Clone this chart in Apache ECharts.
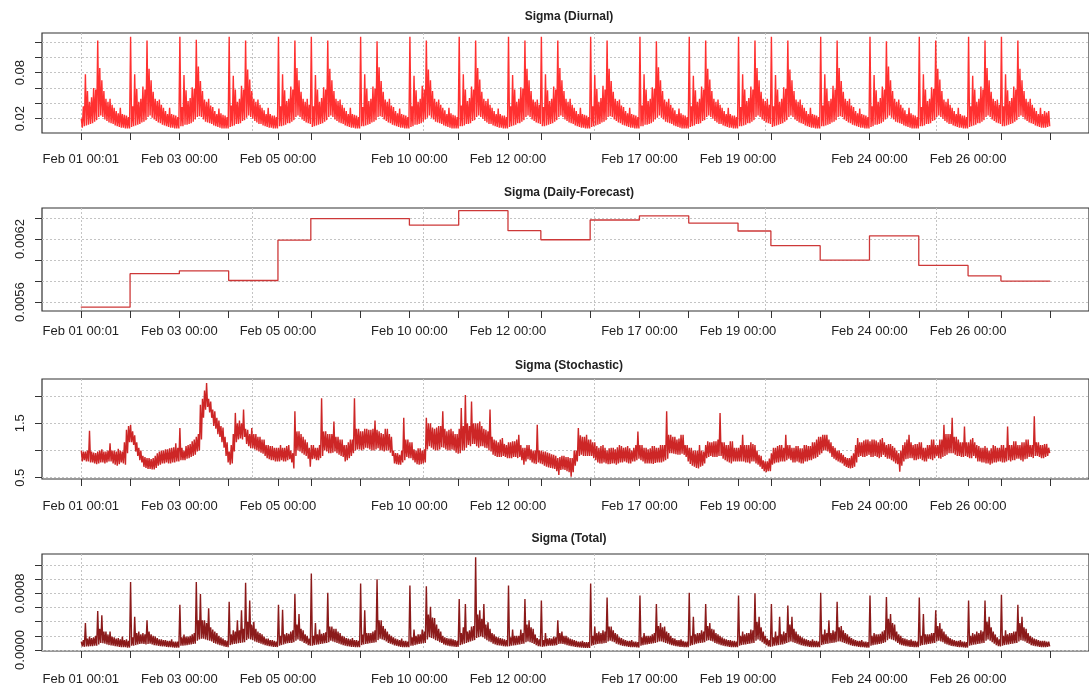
<!DOCTYPE html>
<html>
<head>
<meta charset="utf-8">
<script src="https://cdn.jsdelivr.net/npm/echarts@6/dist/echarts.min.js"></script>
<style>html,body{margin:0;padding:0;background:#fff}#chart{width:1089px;height:686px}</style>
</head>
<body>
<div id="chart"></div>
<script>
// ---------- time structure (trading days) ----------
const dayNames = ["Feb 01","Feb 02","Feb 03","Feb 04","Feb 05","Feb 08","Feb 09","Feb 10","Feb 11","Feb 12",
                  "Feb 15","Feb 16","Feb 17","Feb 18","Feb 19","Feb 22","Feb 23","Feb 24","Feb 25","Feb 26","Mar 01"];
const dayHours = [24,24,24,24,16,24,24,24,24,16,24,24,24,24,16,24,24,24,24,16,24];
const xLabelText = ["Feb 01 00:01","Feb 03 00:00","Feb 05 00:00","Feb 10 00:00","Feb 12 00:00",
                    "Feb 17 00:00","Feb 19 00:00","Feb 24 00:00","Feb 26 00:00"];
const xLabelDay = [0,2,4,7,9,12,14,17,19];
const xGridEvery = 5000; // observations (minutes) between vertical grid lines

// ---------- Sigma (Daily-Forecast): one value per trading day ----------
const dailyForecast = [0.005551,0.00587,0.005897,0.005805,0.00619,0.006394,0.006394,0.006332,0.00647,0.006279,
                       0.006193,0.006381,0.006421,0.006352,0.006276,0.006137,0.0060,0.00623,0.005949,0.00585,0.0058];

// ---------- Sigma (Diurnal): hourly high / low of the 1-minute line (one row per day) ----------
const diurnalHi = [
 .020,.036,.078,.056,.042,.048,.060,.058,.122,.086,.070,.056,.046,.042,.046,.038,.034,.030,.027,.034,.026,.025,.024,.022,
 .127,.036,.078,.059,.042,.046,.062,.058,.122,.085,.070,.055,.046,.043,.045,.038,.034,.030,.026,.034,.026,.025,.024,.022,
 .127,.035,.077,.057,.043,.047,.061,.059,.123,.088,.069,.056,.045,.042,.046,.037,.035,.030,.026,.033,.027,.025,.024,.022,
 .127,.037,.076,.058,.042,.046,.063,.058,.122,.084,.071,.056,.046,.042,.045,.038,.034,.031,.026,.034,.026,.024,.024,.022,
 .127,.036,.078,.057,.043,.046,.062,.058,.122,.086,.070,.055,.046,.042,.046,.038,
 .127,.036,.077,.058,.042,.047,.061,.058,.122,.085,.070,.056,.046,.043,.045,.038,.034,.030,.026,.034,.026,.025,.024,.022,
 .127,.035,.078,.059,.043,.046,.062,.059,.121,.087,.069,.055,.045,.042,.046,.037,.035,.030,.027,.033,.026,.025,.024,.022,
 .127,.036,.076,.057,.042,.046,.063,.058,.122,.084,.070,.056,.046,.042,.045,.038,.034,.031,.026,.034,.027,.025,.024,.022,
 .127,.037,.078,.058,.043,.047,.062,.058,.122,.086,.071,.055,.046,.043,.046,.038,.034,.030,.026,.033,.026,.024,.024,.022,
 .127,.036,.077,.058,.042,.046,.061,.059,.122,.085,.070,.056,.045,.042,.045,.038,
 .127,.035,.078,.057,.043,.046,.062,.058,.122,.086,.070,.056,.046,.042,.046,.038,.034,.030,.026,.034,.026,.025,.024,.022,
 .127,.036,.077,.059,.042,.047,.063,.058,.122,.085,.069,.055,.046,.043,.045,.037,.035,.030,.027,.034,.026,.025,.024,.022,
 .127,.037,.078,.058,.043,.046,.061,.059,.121,.087,.070,.056,.045,.042,.046,.038,.034,.031,.026,.033,.027,.025,.024,.022,
 .127,.036,.076,.057,.042,.046,.062,.058,.122,.085,.071,.056,.046,.042,.045,.038,.034,.030,.026,.034,.026,.024,.024,.022,
 .127,.035,.078,.058,.043,.047,.062,.058,.122,.086,.070,.055,.046,.043,.046,.038,
 .127,.036,.077,.058,.042,.046,.061,.059,.122,.084,.070,.056,.045,.042,.045,.038,.034,.030,.026,.034,.026,.025,.024,.022,
 .127,.037,.078,.059,.043,.046,.063,.058,.122,.086,.069,.055,.046,.043,.046,.037,.035,.030,.027,.033,.026,.025,.024,.022,
 .127,.036,.077,.057,.042,.047,.062,.058,.121,.088,.070,.056,.046,.042,.045,.038,.034,.031,.026,.034,.027,.025,.024,.022,
 .127,.035,.078,.058,.043,.046,.061,.059,.122,.085,.071,.056,.045,.042,.046,.038,.034,.030,.026,.034,.026,.024,.024,.022,
 .127,.036,.076,.058,.042,.046,.062,.058,.122,.086,.070,.055,.046,.043,.045,.038,
 .127,.036,.078,.057,.043,.047,.062,.058,.122,.085,.070,.056,.046,.042,.046,.038,.034,.030,.026,.034,.026,.030,.028,.030];
const diurnalLo = [
 .008,.010,.011,.012,.013,.014,.016,.018,.022,.024,.022,.019,.017,.015,.014,.013,.011,.010,.009,.008,.008,.007,.007,.007,
 .009,.010,.011,.012,.013,.015,.016,.018,.022,.024,.021,.019,.017,.015,.014,.012,.011,.010,.009,.008,.008,.007,.007,.007,
 .010,.010,.012,.012,.013,.014,.016,.019,.022,.023,.022,.019,.016,.015,.014,.013,.011,.010,.009,.008,.007,.007,.007,.007,
 .009,.010,.011,.013,.013,.014,.017,.018,.021,.024,.022,.020,.017,.015,.013,.013,.011,.010,.009,.008,.008,.007,.007,.007,
 .010,.010,.011,.012,.014,.014,.016,.018,.022,.024,.022,.019,.017,.015,.014,.013,
 .009,.010,.011,.012,.013,.014,.016,.018,.022,.024,.022,.019,.017,.015,.014,.013,.011,.010,.009,.008,.008,.007,.007,.007,
 .010,.010,.011,.012,.013,.015,.016,.018,.022,.023,.022,.019,.017,.015,.014,.012,.011,.010,.009,.008,.008,.007,.007,.007,
 .009,.010,.012,.012,.013,.014,.016,.019,.021,.024,.021,.019,.016,.015,.014,.013,.011,.010,.009,.008,.007,.007,.007,.007,
 .010,.010,.011,.013,.013,.014,.017,.018,.022,.024,.022,.020,.017,.015,.013,.013,.011,.010,.009,.008,.008,.007,.007,.007,
 .009,.010,.011,.012,.014,.014,.016,.018,.022,.024,.022,.019,.017,.015,.014,.013,
 .010,.010,.011,.012,.013,.014,.016,.018,.022,.024,.022,.019,.017,.015,.014,.013,.011,.010,.009,.008,.008,.007,.007,.007,
 .009,.010,.011,.012,.013,.015,.016,.018,.022,.023,.022,.019,.017,.015,.014,.012,.011,.010,.009,.008,.008,.007,.007,.007,
 .010,.010,.012,.012,.013,.014,.016,.019,.021,.024,.021,.019,.016,.015,.014,.013,.011,.010,.009,.008,.007,.007,.007,.007,
 .009,.010,.011,.013,.013,.014,.017,.018,.022,.024,.022,.020,.017,.015,.013,.013,.011,.010,.009,.008,.008,.007,.007,.007,
 .010,.010,.011,.012,.014,.014,.016,.018,.022,.024,.022,.019,.017,.015,.014,.013,
 .009,.010,.011,.012,.013,.014,.016,.018,.022,.024,.022,.019,.017,.015,.014,.013,.011,.010,.009,.008,.008,.007,.007,.007,
 .010,.010,.011,.012,.013,.015,.016,.018,.022,.023,.022,.019,.017,.015,.014,.012,.011,.010,.009,.008,.008,.007,.007,.007,
 .009,.010,.012,.012,.013,.014,.016,.019,.021,.024,.021,.019,.016,.015,.014,.013,.011,.010,.009,.008,.007,.007,.007,.007,
 .010,.010,.011,.013,.013,.014,.017,.018,.022,.024,.022,.020,.017,.015,.013,.013,.011,.010,.009,.008,.008,.007,.007,.007,
 .009,.010,.011,.012,.014,.014,.016,.018,.022,.024,.022,.019,.017,.015,.014,.013,
 .010,.010,.011,.012,.013,.014,.016,.018,.022,.024,.022,.019,.017,.015,.014,.013,.011,.010,.009,.008,.008,.008,.009,.010];

// ---------- Sigma (Stochastic): hourly high / low ----------
const stochHi = [
 1.0,.98,.98,1.0,1.36,.98,.96,.95,.98,1.0,1.02,.98,.98,1.0,1.13,1.0,1.0,.98,1.03,1.0,.98,1.15,1.38,1.45,
 1.47,1.35,1.28,1.15,1.05,1.0,.9,.88,.86,.86,.84,.86,.9,.95,.98,1.0,1.0,1.02,1.02,1.04,1.05,1.06,1.13,1.05,
 1.41,1.05,1.0,1.08,1.1,1.12,1.17,1.2,1.25,1.3,1.84,1.95,2.1,2.24,1.95,1.9,1.75,1.72,1.6,1.55,1.45,1.42,1.25,1.15,
 .98,1.1,1.3,1.69,1.5,1.55,1.5,1.75,1.4,1.38,1.3,1.41,1.3,1.3,1.25,1.25,1.2,1.2,1.1,1.1,1.08,1.08,1.05,1.05,
 1.05,1.1,1.05,1.05,1.08,1.1,1.0,.95,1.72,1.35,1.35,1.3,1.25,1.2,1.15,1.05,
 1.1,1.1,1.05,1.05,1.1,1.96,1.35,1.35,1.3,1.3,1.3,1.53,1.25,1.25,1.2,1.2,1.1,1.1,1.15,1.2,1.2,1.96,1.4,1.4,
 1.35,1.35,1.4,1.4,1.38,1.38,1.4,1.55,1.38,1.35,1.32,1.3,1.4,1.4,1.3,1.25,1.0,.95,.95,.92,1.0,1.6,1.2,1.2,
 1.15,1.15,1.02,1.0,1.04,1.04,1.0,1.02,1.6,1.5,1.5,1.42,1.4,1.42,1.45,1.45,1.72,1.4,1.35,1.38,1.4,1.35,1.3,1.3,
 1.4,1.78,1.45,2.02,1.5,1.45,1.9,1.5,1.5,1.5,1.53,1.45,1.4,1.38,1.35,1.75,1.25,1.2,1.18,1.15,1.2,1.23,1.12,1.1,
 1.15,1.15,1.17,1.17,1.2,1.29,1.1,1.05,1.05,1.1,1.1,1.02,1.0,1.0,1.47,1.0,
 1.0,.98,.98,.96,.95,.93,.92,.9,.86,.88,.9,.9,.88,.88,.86,.86,1.0,1.0,1.41,1.28,1.25,1.25,1.29,1.2,
 1.2,1.15,1.15,1.08,1.05,1.08,1.1,1.05,1.0,1.04,1.05,1.05,1.02,1.06,1.1,1.08,1.05,1.06,1.08,1.04,1.0,1.05,1.1,1.35,
 1.1,1.1,1.05,1.05,1.02,1.04,1.08,1.08,1.05,1.05,1.1,1.1,1.1,1.72,1.29,1.29,1.25,1.25,1.2,1.22,1.29,1.29,1.1,1.1,
 1.05,1.05,1.0,1.0,1.0,1.1,1.0,.98,1.1,1.17,1.15,1.15,1.17,1.17,1.2,1.69,1.15,1.15,1.1,1.1,1.17,1.17,1.05,1.05,
 1.05,1.1,1.29,1.1,1.1,1.1,1.15,1.12,1.1,1.0,.92,.9,.82,.8,.8,.85,
 .95,1.05,1.05,1.08,1.1,1.1,1.05,1.29,1.1,1.1,1.05,1.05,1.08,1.08,1.04,1.04,1.1,1.1,1.08,1.08,1.15,1.15,1.2,1.25,
 1.25,1.29,1.29,1.29,1.2,1.15,1.08,1.05,1.0,1.0,.95,.92,.88,.86,.86,.9,.95,1.1,1.23,1.15,1.15,1.18,1.2,1.2,
 1.17,1.2,1.2,1.18,1.15,1.2,1.23,1.15,1.1,1.12,1.12,1.08,1.05,1.0,.95,1.0,1.1,1.15,1.2,1.29,1.15,1.1,1.12,1.12,
 1.15,1.15,1.05,1.05,1.1,1.1,1.2,1.2,1.1,1.1,1.2,1.2,1.47,1.3,1.3,1.3,1.6,1.25,1.25,1.2,1.15,1.15,1.44,1.15,
 1.15,1.2,1.23,1.15,1.1,1.08,1.05,1.05,1.08,1.05,1.0,1.04,1.1,1.08,1.05,1.05,
 1.1,1.1,1.05,1.44,1.1,1.1,1.17,1.17,1.1,1.1,1.15,1.15,1.2,1.2,1.1,1.1,1.63,1.15,1.15,1.1,1.1,1.12,1.12,1.05];
const stochLo = [
 .8,.82,.8,.8,.78,.78,.76,.75,.76,.78,.78,.76,.78,.8,.8,.76,.74,.72,.75,.78,.76,.74,.95,1.15,
 1.15,1.1,.98,.9,.82,.78,.7,.68,.66,.66,.65,.65,.68,.72,.74,.76,.76,.78,.76,.76,.78,.78,.8,.8,
 .82,.82,.82,.85,.86,.88,.9,.92,.98,1.0,1.2,1.6,1.75,1.8,1.7,1.6,1.45,1.4,1.3,1.25,1.15,1.05,.9,.78,
 .74,.76,.98,1.15,1.2,1.22,1.2,1.25,1.12,1.08,1.04,1.04,1.02,1.0,.98,.96,.94,.9,.86,.84,.82,.82,.8,.8,
 .8,.82,.8,.8,.82,.84,.78,.67,.9,1.0,.98,.95,.92,.9,.85,.7,
 .84,.85,.82,.82,.86,.9,1.0,.98,.95,.95,.96,.98,.95,.92,.9,.88,.8,.82,.86,.9,.95,1.0,1.02,1.02,
 1.0,1.02,1.05,1.04,1.02,1.0,1.0,1.02,1.04,1.0,1.0,.98,1.0,1.0,.96,.9,.76,.75,.74,.74,.78,.82,.88,.86,
 .86,.82,.78,.75,.74,.75,.76,.78,1.02,1.08,1.05,1.02,1.0,1.0,1.02,1.06,1.05,1.02,1.0,1.0,1.02,1.0,.96,.94,
 .95,1.0,1.0,1.05,1.1,1.08,1.12,1.12,1.08,1.05,1.08,1.08,1.05,1.04,1.0,.98,.92,.9,.88,.88,.88,.9,.88,.86,
 .86,.86,.88,.88,.86,.88,.82,.74,.8,.84,.82,.78,.76,.75,.78,.76,
 .75,.72,.7,.69,.68,.67,.66,.62,.55,.64,.65,.64,.62,.6,.52,.6,.72,.8,.9,.92,.9,.9,.9,.9,
 .9,.86,.82,.78,.76,.76,.78,.76,.75,.75,.76,.76,.74,.76,.78,.78,.8,.78,.76,.76,.8,.8,.82,.85,
 .82,.8,.76,.76,.76,.76,.75,.77,.78,.78,.78,.8,.82,.85,.95,.95,.94,.93,.92,.92,.94,.92,.88,.8,
 .75,.72,.7,.68,.67,.7,.72,.76,.86,.88,.9,.88,.88,.88,.9,.9,.85,.82,.8,.78,.76,.8,.8,.8,
 .8,.8,.8,.78,.78,.76,.8,.8,.76,.74,.7,.66,.62,.6,.62,.62,
 .74,.76,.78,.78,.8,.8,.8,.82,.85,.82,.78,.78,.8,.78,.76,.76,.8,.8,.82,.82,.85,.86,.88,.92,
 .95,1.0,1.0,.98,.95,.88,.85,.82,.8,.78,.76,.72,.7,.68,.67,.68,.7,.78,.88,.9,.88,.88,.9,.92,
 .88,.88,.9,.88,.86,.88,.92,.88,.85,.85,.82,.8,.76,.75,.61,.72,.8,.84,.85,.86,.86,.82,.82,.84,
 .85,.82,.8,.8,.85,.84,.82,.86,.9,.86,.85,.88,.9,.92,.95,.95,.95,.92,.9,.9,.88,.88,.9,.88,
 .86,.86,.9,.86,.8,.8,.78,.78,.76,.76,.74,.76,.78,.78,.8,.8,
 .78,.78,.8,.82,.8,.82,.82,.85,.85,.82,.8,.84,.85,.88,.88,.86,.9,.9,.88,.86,.86,.88,.9,.95];

// ---------- Sigma (Total): hourly high / low, in units of 1e-4 ----------
const TOTAL_UNIT = 1e-4;
const totalHi = [
 1.2,1.4,3.8,1.6,1.9,1.7,1.8,2.0,5.5,3.0,4.9,2.6,2.6,2.2,2.6,1.9,1.8,1.6,1.7,1.5,1.9,1.4,1.5,1.3,
 9.6,1.8,4.7,2.4,2.6,2.2,2.4,2.2,4.2,2.6,2.2,2.0,1.9,1.7,1.5,1.5,1.4,1.4,1.3,1.3,1.5,1.2,1.2,1.2,
 6.4,1.8,2.2,1.9,1.9,2.0,2.2,2.4,9.6,4.2,7.9,4.2,4.2,3.8,5.9,3.2,2.9,2.6,2.4,2.0,1.8,1.6,1.4,1.3,
 6.8,2.2,2.8,2.6,4.2,2.8,5.6,3.0,9.5,4.0,7.0,3.6,4.0,3.0,2.6,2.4,2.2,1.9,1.6,1.6,1.4,1.4,1.3,1.2,
 6.4,2.0,5.7,2.2,2.4,2.3,2.6,2.8,7.9,3.6,5.1,3.0,2.8,2.2,2.0,1.6,
 10.8,2.0,3.8,2.2,2.9,2.3,2.4,2.5,8.1,3.3,3.3,3.0,3.0,2.6,2.4,2.0,1.9,1.7,1.6,1.5,1.7,1.4,1.4,1.3,
 9.4,2.2,5.6,2.4,2.4,2.4,2.6,2.8,10.0,4.2,4.2,3.4,3.0,2.6,2.2,2.0,1.8,1.6,1.5,1.4,1.6,1.3,1.3,1.2,
 9.1,1.8,2.9,2.0,2.2,2.2,2.9,2.6,9.0,5.0,6.1,4.6,4.5,3.6,3.0,2.6,2.0,1.8,1.7,1.6,1.6,1.5,1.4,1.3,
 7.2,2.4,3.2,6.5,2.6,2.8,3.3,3.4,13.1,5.0,5.6,4.4,6.5,3.6,3.9,3.0,2.4,2.2,1.9,1.8,1.7,1.6,1.5,1.4,
 9.1,1.8,2.9,2.0,2.0,2.0,2.9,2.4,7.2,3.6,4.2,3.2,3.0,2.2,1.7,1.5,
 7.0,1.4,2.4,1.6,1.7,1.6,1.9,1.8,4.2,2.4,2.6,2.0,2.0,1.8,1.6,1.5,1.4,1.3,1.2,1.2,1.3,1.1,1.1,1.1,
 9.4,2.0,3.3,2.4,2.6,2.4,2.8,2.6,7.4,3.3,3.3,2.8,2.4,2.2,1.8,1.7,1.5,1.4,1.3,1.3,1.4,1.2,1.2,1.1,
 7.7,1.8,2.4,2.0,2.0,2.0,2.2,2.4,6.5,3.4,3.8,3.2,3.3,2.6,2.4,2.0,1.7,1.6,1.4,1.4,1.5,1.3,1.2,1.2,
 8.1,2.0,4.7,2.2,2.4,2.4,2.8,2.6,6.5,3.4,3.8,3.0,2.9,2.4,2.2,2.0,1.8,1.6,1.5,1.4,1.4,1.3,1.3,1.2,
 7.7,2.0,2.6,2.2,2.4,2.4,2.9,2.8,8.0,4.0,4.7,3.2,2.6,2.0,1.6,1.4,
 6.5,1.8,2.6,2.0,4.7,2.2,2.6,2.4,6.3,3.6,4.7,3.0,2.6,2.2,2.0,1.8,1.6,1.5,1.4,1.3,1.5,1.3,1.3,1.2,
 8.1,2.2,2.9,2.4,4.2,2.4,2.8,2.6,6.8,3.2,3.4,2.8,2.4,2.2,1.9,1.7,1.5,1.4,1.3,1.3,1.4,1.2,1.2,1.1,
 7.7,2.0,2.4,2.2,2.2,2.3,2.6,2.8,7.5,4.4,5.1,3.8,3.6,2.6,2.2,2.0,1.7,1.6,1.5,1.4,1.5,1.3,1.3,1.2,
 7.4,2.0,5.1,2.2,2.2,2.2,2.4,2.4,5.6,3.4,3.8,3.0,2.6,2.2,1.9,1.7,1.5,1.4,1.3,1.3,1.4,1.2,1.2,1.1,
 7.0,2.0,2.4,2.2,2.6,2.4,2.8,2.6,7.0,4.0,4.7,3.2,2.6,2.2,1.8,1.5,
 7.8,2.0,2.8,2.2,2.4,2.4,2.6,2.6,6.4,3.8,4.7,3.2,3.0,2.4,2.0,1.8,1.6,1.5,1.4,1.3,1.3,1.3,1.2,1.2];
const totalLo = [
 .5,.45,.5,.5,.55,.55,.6,.6,.8,1.0,.95,.9,.8,.7,.65,.6,.55,.5,.45,.4,.4,.4,.35,.35,
 .6,.6,.7,.8,.85,.9,.85,.8,.85,.9,.8,.7,.65,.6,.55,.5,.5,.45,.42,.4,.38,.35,.35,.35,
 .6,.6,.65,.7,.75,.8,.85,.9,1.3,1.5,1.6,1.6,1.5,1.4,1.3,1.2,1.0,.9,.8,.7,.6,.5,.45,.4,
 .7,.8,.85,.9,.95,1.0,1.05,1.1,1.4,1.6,1.5,1.4,1.2,1.1,1.0,.9,.8,.7,.6,.55,.5,.45,.45,.42,
 .6,.7,.8,.9,.95,1.0,1.0,1.1,1.3,1.5,1.3,1.2,1.0,.9,.7,.6,
 .6,.7,.75,.8,.85,.9,.95,1.0,1.1,1.3,1.2,1.1,1.0,.9,.8,.7,.6,.55,.5,.45,.45,.42,.4,.4,
 .7,.8,.85,.9,.95,1.0,1.05,1.1,1.4,1.6,1.5,1.4,1.2,1.0,.9,.8,.65,.6,.5,.45,.42,.4,.4,.4,
 .6,.6,.7,.8,.85,.9,.95,1.0,1.5,1.8,1.7,1.6,1.4,1.3,1.1,1.0,.8,.7,.6,.55,.5,.48,.45,.45,
 .7,.8,.9,1.0,1.1,1.2,1.3,1.4,1.7,1.8,1.9,1.8,1.6,1.4,1.2,1.1,.9,.8,.7,.65,.6,.55,.5,.5,
 .55,.6,.65,.7,.75,.8,.85,.9,1.1,1.2,1.1,1.0,.85,.7,.55,.5,
 .45,.5,.55,.6,.6,.62,.65,.7,.85,.9,.85,.8,.7,.6,.55,.5,.45,.4,.38,.35,.32,.3,.3,.3,
 .6,.7,.8,.85,.9,.9,.95,1.0,1.2,1.3,1.2,1.1,.9,.8,.7,.6,.55,.5,.45,.4,.4,.4,.38,.35,
 .6,.7,.75,.8,.85,.9,.95,1.0,1.1,1.2,1.2,1.1,1.0,.9,.8,.7,.6,.55,.5,.45,.45,.42,.4,.4,
 .6,.7,.8,.9,.95,1.0,1.05,1.1,1.3,1.4,1.3,1.2,1.0,.9,.8,.7,.6,.55,.5,.45,.42,.4,.4,.4,
 .6,.7,.75,.8,.85,.9,.95,1.0,1.3,1.5,1.3,1.1,.9,.7,.5,.45,
 .5,.6,.65,.7,.75,.8,.9,1.0,1.1,1.2,1.1,1.0,.9,.8,.7,.6,.55,.5,.45,.42,.4,.4,.4,.4,
 .7,.8,.85,.9,.95,1.0,1.05,1.1,1.2,1.2,1.1,1.0,.9,.8,.7,.6,.55,.5,.45,.42,.4,.38,.35,.35,
 .6,.7,.75,.8,.85,.9,1.0,1.1,1.4,1.6,1.5,1.4,1.2,1.0,.8,.7,.6,.55,.5,.45,.45,.42,.4,.4,
 .6,.7,.75,.8,.85,.9,.95,1.0,1.2,1.3,1.2,1.1,.9,.8,.7,.6,.55,.5,.45,.42,.4,.38,.35,.35,
 .6,.7,.75,.8,.85,.9,.95,1.0,1.3,1.5,1.3,1.1,.9,.7,.55,.5,
 .6,.7,.75,.8,.85,.9,.95,1.0,1.2,1.4,1.3,1.2,1.0,.9,.7,.6,.55,.5,.45,.42,.4,.4,.45,.5];

// ---------- axis tick values ----------
const yTicks = [
  [0.02,0.04,0.06,0.08,0.10,0.12],
  [0.0056,0.0058,0.0060,0.0062,0.0064],
  [0.5,1.0,1.5,2.0],
  [0,0.0002,0.0004,0.0006,0.0008,0.0010,0.0012]
];
const yLabels = [[0.02,0.08],[0.0056,0.0062],[0.5,1.5],[0,0.0008]];
const yDecimals = [2,4,1,4];
const yRange = [[0.0012,0.1318],[0.005515,0.006495],[0.476,2.3125],[-0.0000138,0.001356]];
const titles = ["Sigma (Diurnal)","Sigma (Daily-Forecast)","Sigma (Stochastic)","Sigma (Total)"];

// ---------- build ----------
const dayStart = [];
let acc = 0;
dayHours.forEach(h => { dayStart.push(acc * 60); acc += h; });
const totalMin = acc * 60;
const xTickVals = dayStart.concat([totalMin]);
const xLabelVals = xLabelDay.map(d => dayStart[d]);
const xGridVals = [];
for (let v = 0; v <= totalMin; v += xGridEvery) xGridVals.push(v);

// each hour contributes its high (first half) and its low (second half)
function hourlyHiLo(hi, lo, unit) {
  const pts = [];
  for (let i = 0; i < hi.length; i++) {
    pts.push([i * 60 + 15, hi[i] * unit]);
    pts.push([i * 60 + 45, lo[i] * unit]);
  }
  return pts;
}
const diurnal = hourlyHiLo(diurnalHi, diurnalLo, 1);
const stochastic = hourlyHiLo(stochHi, stochLo, 1);
const total = hourlyHiLo(totalHi, totalLo, TOTAL_UNIT);
const daily = dailyForecast.map((v, i) => [dayStart[i], v]).concat([[totalMin, dailyForecast[dailyForecast.length - 1]]]);

const lens = [diurnalHi, diurnalLo, stochHi, stochLo, totalHi, totalLo].map(a => a.length).join(',');

const seriesData = [diurnal, daily, stochastic, total];
const colors = ['#FF3030', '#CD3838', '#CD2626', '#8B1A1A'];
const lineWidths = [1.4, 1.3, 1.4, 1.4];

// layout
const FONT = 'Liberation Sans, Arial, sans-serif';
const boxLeft = 42, boxWidth = 1054;
const boxTop = [33, 208, 379, 554];
const boxHeight = [100, 103, 100, 99];
const titleTop = [10, 186, 359, 532];
const xLabelMargin = [20, 14, 21, 22];
const xPad = 0.04 * totalMin;

const option = { animation: false, backgroundColor: '#fff', title: [], grid: [], xAxis: [], yAxis: [], series: [] };

for (let p = 0; p < 4; p++) {
  option.title.push({
    text: titles[p], left: boxLeft + boxWidth / 2, top: titleTop[p], textAlign: 'center', padding: 0,
    textStyle: { fontFamily: FONT, fontSize: 12, fontWeight: 'bold', color: '#222', lineHeight: 14 }
  });
  option.grid.push({ left: boxLeft, top: boxTop[p], width: boxWidth, height: boxHeight[p],
    show: true, borderColor: '#333', borderWidth: 1.2, backgroundColor: 'transparent' });
  option.xAxis.push({
    type: 'value', gridIndex: p, min: -xPad, max: totalMin + xPad, position: 'bottom',
    axisLine: { show: false, onZero: false },
    axisTick: { show: true, length: 7, inside: false, customValues: xTickVals, lineStyle: { color: '#333', width: 1 } },
    axisLabel: { show: true, customValues: xLabelVals, margin: xLabelMargin[p], fontFamily: FONT, fontSize: 13, color: '#222',
      formatter: v => { const k = xLabelVals.indexOf(v); return k >= 0 ? xLabelText[k] : ''; } },
    splitLine: { show: false }
  });
  option.xAxis.push({
    type: 'value', gridIndex: p, min: -xPad, max: totalMin + xPad, position: 'top',
    axisLine: { show: false, onZero: false }, axisLabel: { show: false },
    axisTick: { show: false, customValues: xGridVals },
    splitLine: { show: true, lineStyle: { color: '#c4c4c4', type: [2, 2], width: 1 } }
  });
  const dec = yDecimals[p];
  option.yAxis.push({
    type: 'value', gridIndex: p, min: yRange[p][0], max: yRange[p][1], scale: true, position: 'left',
    axisLine: { show: false, onZero: false },
    axisTick: { show: true, length: 7, customValues: yTicks[p], lineStyle: { color: '#333', width: 1 } },
    axisLabel: { show: true, customValues: yLabels[p], rotate: 90, margin: 15, fontFamily: FONT, fontSize: 13, color: '#222',
      formatter: v => v.toFixed(dec) },
    splitLine: { show: true, lineStyle: { color: '#c4c4c4', type: [2, 2], width: 1 } }
  });
  option.series.push({
    type: 'line', xAxisIndex: 2 * p, yAxisIndex: p, data: seriesData[p],
    showSymbol: false, symbol: 'none', step: p === 1 ? 'end' : false,
    lineStyle: { color: colors[p], width: lineWidths[p], join: 'bevel' }, itemStyle: { color: colors[p] },
    silent: true, z: 3
  });
}
if (lens !== '472,472,472,472,472,472') {
  option.graphic = [{ type: 'text', left: 5, top: 670, style: { text: 'LEN ' + lens, fill: '#00f', fontSize: 12 } }];
}

const chart = echarts.init(document.getElementById('chart'), null, { renderer: 'canvas' });
chart.setOption(option);
</script>
</body>
</html>
